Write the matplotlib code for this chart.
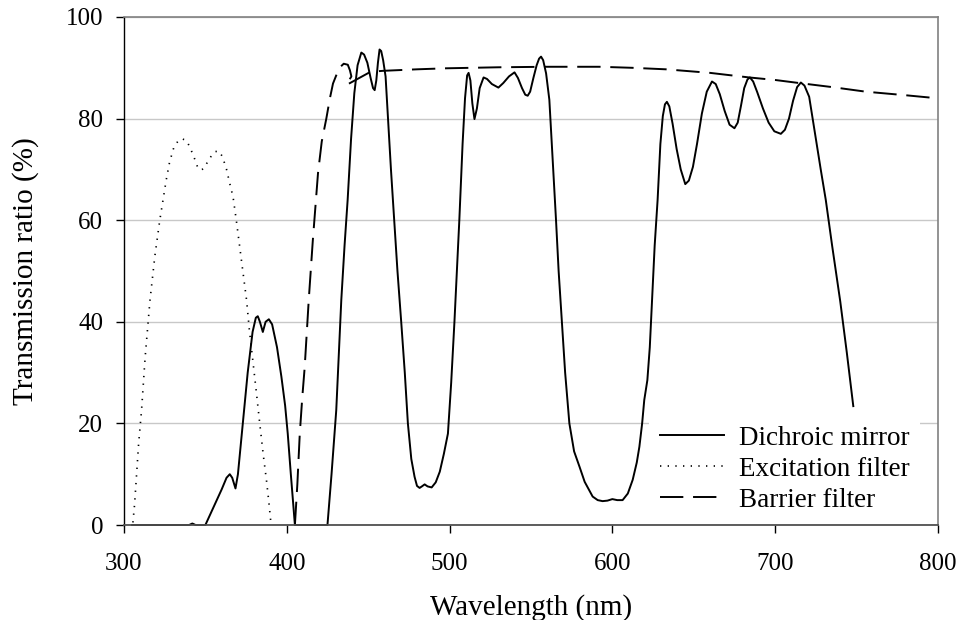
import matplotlib
matplotlib.use("Agg")
from matplotlib import pyplot as plt

plt.rcParams['font.family'] = ['Liberation Serif', 'DejaVu Serif']

# Dichroic mirror (solid)
dichroic_x = [305, 340, 342, 344, 350, 355, 360, 363, 365, 366.5, 368.5, 370, 373, 376, 379, 381,
              382.2, 383.5, 385.3, 387, 389, 391, 394, 396.7, 399, 400.6, 402.5, 405, 425, 427.5,
              430.4, 433.5, 435.5, 437.4, 439.5, 441.5, 443.5, 445.8, 447.5, 449.5, 451.5, 453,
              454, 455, 456, 457, 458, 459.2, 460.7, 462, 464, 466, 468, 470.3, 472.5, 474.4,
              476.5, 478.5, 480, 481.6, 483, 484.7, 486.5, 489, 491.5, 494, 496.5, 499, 501, 503,
              504.5, 506, 508, 509.5, 510.8, 511.7, 512.8, 514, 515.3, 516.8, 518.5, 520.9, 523,
              526, 530, 533, 536.5, 539.9, 542, 544.5, 546.5, 548, 549.5, 551.5, 553.5, 555,
              556.2, 557.5, 559.3, 561.3, 563, 565.4, 567, 569, 571, 573.6, 576.5, 579.8, 583,
              587.9, 591, 594, 597, 600, 603, 606.3, 609.5, 612.5, 615, 616.6, 618.3, 619.6,
              621.5, 623, 624.5, 626, 627.8, 629.5, 631, 632.3, 633.5, 635, 637, 639.5, 642,
              644.8, 647, 649.5, 652, 655, 658, 661.2, 663.5, 666, 669, 672, 675, 677, 679, 681,
              683, 684.5, 686.5, 689, 692.5, 696, 699.5, 703.5, 706, 708.5, 711, 713.5, 715.8,
              718, 720.9, 725, 728, 731.1, 735, 740, 744, 748]
dichroic_y = [0, 0, 0.3, 0, 0, 3.5, 7, 9.3, 10, 9.3, 7.2, 10, 20, 30, 38, 40.8,
              41.1, 40, 38, 40, 40.5, 39.5, 35, 29.2, 23.5, 18, 10, 0, 0, 10,
              22.6, 44.3, 55, 64, 76, 85, 90.5, 93, 92.6, 91, 88, 86,
              85.6, 87.5, 91, 93.6, 93.3, 91.5, 88.3, 81, 70, 60, 50, 40, 30, 20,
              13, 9.5, 7.7, 7.3, 7.6, 8, 7.6, 7.4, 8.4, 10.5, 14, 18, 28, 40,
              50, 60, 75, 84, 88.5, 89, 87.5, 83, 79.9, 82, 86, 88.1, 87.8,
              86.8, 86.1, 87, 88.3, 89.1, 88, 86, 84.7, 84.5, 85.3, 88, 90.5, 91.8,
              92.2, 91.5, 88.9, 83.7, 74, 60, 50, 40, 30, 20, 14.5, 11.5, 8.5,
              5.6, 4.9, 4.7, 4.8, 5.1, 4.9, 4.9, 6.2, 8.9, 12.3, 15.4, 20, 24.6,
              28.5, 35, 45, 55, 64, 75, 80.5, 82.8, 83.3, 82.4, 79, 74, 70,
              67.1, 67.8, 70.5, 75, 81, 85.3, 87.3, 86.8, 84.8, 81.5, 78.8, 78.1, 79.2, 82.5, 86,
              87.7, 88.1, 87.3, 85.2, 82, 79.2, 77.5, 77, 77.8, 80, 83.5, 86.2, 87.1,
              86.5, 84.3, 76, 70, 64, 55, 44, 34, 23.4]

# Excitation filter (dotted)
excitation_x = [305.5, 306.5, 307.8, 309, 310.8, 313, 316, 319, 322, 324, 326, 328, 330.7, 333.7,
                336, 338.6, 341, 343.5, 345.5, 347.6, 349.5, 351.5, 354, 356, 358.4, 360.5, 363,
                365, 367, 369, 371, 373, 375.3, 377, 379, 381.2, 383.4, 385.5, 387.5, 389, 390.2]
excitation_y = [0.5, 4, 10.2, 16, 22.6, 33, 44.3, 53, 60, 64, 68, 71.4, 74.4, 75.8,
                76, 75.6, 74, 72, 70.2, 69.9, 70.3, 71.6, 72.8, 73.5, 73.6, 72.5, 70,
                67.2, 64.6, 60, 55, 50, 44.3, 38.5, 32.8, 26.5, 20, 14, 8.9, 4.5, 0.6]

# Barrier filter (dashed)
barrier_x = [405, 406.5, 408, 409.5, 411, 413.5, 416, 419.2, 421.5, 424.3, 426.5, 428.4, 431, 433,
             435, 437.5, 438.8, 439.7, 436.6, 451.4, 459, 480, 497.8, 530, 559.3, 592, 612,
             632.9, 660, 684, 700, 714.7, 735, 755.6, 780, 799.6]
barrier_y = [0, 8, 18, 25, 31, 44.3, 56, 69.3, 75.5, 80, 84, 86.9, 89, 90.2,
             90.8, 90.6, 89.5, 88.3, 86.6, 89.2, 89.4, 89.7, 89.9, 90.1, 90.2, 90.2, 90,
             89.7, 89, 88.1, 87.6, 87, 86.2, 85.3, 84.6, 84]

fig = plt.figure(figsize=(9.61, 6.2), dpi=100)
ax = fig.add_axes([0.129, 0.1532, 0.847, 0.8194])

ax.plot(dichroic_x, dichroic_y, color="black", lw=1.4, label="Dichroic mirror", clip_on=False)
ax.plot(excitation_x, excitation_y, color="black", lw=1.2, dashes=(0.8, 3.8),
        label="Excitation filter", clip_on=False)
ax.plot(barrier_x, barrier_y, color="black", lw=1.4, dashes=(12, 5),
        label="Barrier filter", clip_on=False)

ax.set_xlim(300, 800)
ax.set_ylim(0, 100)
ax.set_xticks(range(300, 801, 100))
ax.set_yticks(range(0, 101, 20))
ax.yaxis.grid(True, color="#c8c8c8", lw=1.0)
ax.set_axisbelow(True)

for side in ["top", "right"]:
    ax.spines[side].set_color("#808080")
    ax.spines[side].set_linewidth(1.2)
ax.spines["bottom"].set_color("#505050")
ax.spines["bottom"].set_linewidth(1.3)
ax.spines["left"].set_color("black")
ax.spines["left"].set_linewidth(1.0)

ax.tick_params(axis="both", direction="out", length=6, width=1.0, labelsize=18, pad=9,
               color="black")
ax.tick_params(axis="x", pad=14)
ax.tick_params(top=False, right=False)

ax.set_xlabel("Wavelength (nm)", fontsize=21, labelpad=14)
ax.set_ylabel("Transmission ratio (%)", fontsize=21, labelpad=19)

leg = ax.legend(loc="lower right", bbox_to_anchor=(0.978, 0.003), fontsize=19.5,
                frameon=True, fancybox=False, edgecolor="none", facecolor="white",
                framealpha=1.0, handlelength=2.35, handletextpad=0.55, labelspacing=0.22,
                borderpad=0.4, borderaxespad=0.0)

plt.savefig("out.png", dpi=100)
